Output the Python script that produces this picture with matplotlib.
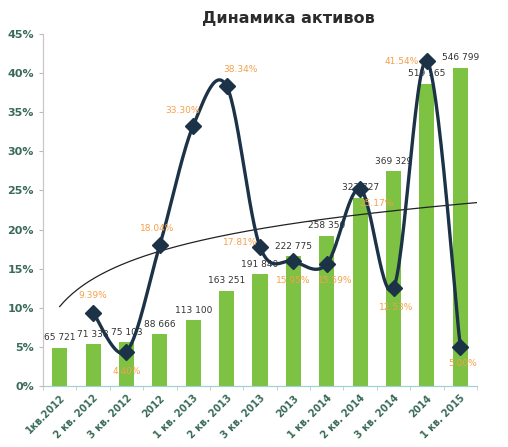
"""
Динамика активов: bars of assets + smoothed growth-rate line with log trend.
"""

import matplotlib

matplotlib.use("Agg")
import matplotlib.pyplot as plt
import numpy as np
from matplotlib.ticker import FixedLocator, FuncFormatter

# ============================================================
# Data
# ============================================================
quarters = [
    "1кв.2012", "2 кв. 2012", "3 кв. 2012", "2012",
    "1 кв. 2013", "2 кв. 2013", "3 кв. 2013", "2013",
    "1 кв. 2014", "2 кв. 2014", "3 кв. 2014", "2014",
    "1 кв. 2015",
]
assets = [65721, 71338, 75103, 88666, 113100, 163251, 191840,
          222775, 258350, 323727, 369329, 519165, 546799]
growth_pct = [np.nan, 9.39, 4.40, 18.04, 33.30, 38.34, 17.81,
              15.95, 15.59, 25.17, 12.53, 41.54, 5.00]

# label offsets for the % labels (points), style only
pct_offsets = [None, (0, 12), (0, -14), (-2, 12), (-8, 11), (10, 12), (-14, 3),
               (0, -14), (6, -12), (12, -10), (2, -14), (-18, 0), (2, -12)]

BAR_GREEN = "#7dc242"
LINE_NAVY = "#1c3247"
ORANGE = "#f5a04a"
AXIS_GREEN = "#3a6b58"


def catmull_rom(x, y, n=30):
    """Excel-like smoothed line through the given points."""
    px, py = [], []
    for i in range(len(x) - 1):
        x0, y0 = (x[i - 1], y[i - 1]) if i > 0 else (x[i], y[i])
        x1, y1 = x[i], y[i]
        x2, y2 = x[i + 1], y[i + 1]
        x3, y3 = (x[i + 2], y[i + 2]) if i + 2 < len(x) else (x2, y2)
        t = np.linspace(0, 1, n)
        # cubic bezier with control points at 1/6 of neighbour differences
        c1x, c1y = x1 + (x2 - x0) / 6, y1 + (y2 - y0) / 6
        c2x, c2y = x2 - (x3 - x1) / 6, y2 - (y3 - y1) / 6
        bx = ((1 - t) ** 3) * x1 + 3 * ((1 - t) ** 2) * t * c1x + 3 * (1 - t) * t ** 2 * c2x + t ** 3 * x2
        by = ((1 - t) ** 3) * y1 + 3 * ((1 - t) ** 2) * t * c1y + 3 * (1 - t) * t ** 2 * c2y + t ** 3 * y2
        px.extend(bx)
        py.extend(by)
    return np.array(px), np.array(py)


def main() -> None:
    plt.rcParams["font.family"] = ["DejaVu Sans"]

    fig = plt.figure(figsize=(5.08, 4.47), dpi=100)
    ax = fig.add_axes([43 / 508, 1 - 386 / 447, (477 - 43) / 508, (386 - 34) / 447])

    x = np.arange(len(quarters))

    # bars (hidden secondary scale)
    ax.bar(x, assets, width=0.45, color=BAR_GREEN, zorder=2)
    ax.set_ylim(0, 605000)
    ax.set_xlim(-0.5, len(quarters) - 0.5)
    ax.set_yticks([])
    for xi, v in zip(x, assets):
        ax.annotate(f"{v:,}".replace(",", " "), (xi, v), xytext=(0, 4),
                    textcoords="offset points", ha="center", va="bottom",
                    fontsize=6.5, color="#333333", zorder=3)

    # percentage axis
    axp = ax.twinx()
    axp.set_ylim(0, 45)
    axp.yaxis.set_ticks_position("left")
    axp.yaxis.set_label_position("left")
    axp.set_yticks(np.arange(0, 46, 5))
    axp.yaxis.set_major_formatter(FuncFormatter(lambda v, _: f"{v:.0f}%"))
    axp.tick_params(axis="y", length=3, color="#bbbbbb", labelsize=8,
                    labelcolor=AXIS_GREEN)
    for lab in axp.get_yticklabels():
        lab.set_fontweight("bold")

    # log trendline fitted to growth series
    g = np.array(growth_pct)
    mask = ~np.isnan(g)
    xn = x[mask] + 1
    a, b = np.polyfit(np.log(xn), g[mask], 1)
    xt = np.linspace(1, len(quarters) + 0.5, 200)
    axp.plot(xt - 1, a * np.log(xt) + b, color="#222222", lw=0.9, zorder=3)

    # smoothed growth line
    sx, sy = catmull_rom(x[mask].astype(float), g[mask])
    axp.plot(sx, sy, color=LINE_NAVY, lw=2.4, zorder=4, solid_capstyle="round")
    axp.plot(x[mask], g[mask], linestyle="none", marker="D", markersize=8,
             color=LINE_NAVY, zorder=5)
    for xi, v, off in zip(x, growth_pct, pct_offsets):
        if off is None:
            continue
        axp.annotate(f"{v:.2f}%", (xi, v), xytext=off, textcoords="offset points",
                     ha="center", va="center", fontsize=6.5, color=ORANGE, zorder=6)

    # spines / x axis
    for a_ in (ax, axp):
        a_.spines["top"].set_visible(False)
        a_.spines["right"].set_visible(False)
        a_.spines["left"].set_color("#c8c8c8")
        a_.spines["bottom"].set_color("#9fd3cf")
    ax.set_xticks(x)
    ax.set_xticklabels(quarters, rotation=45, ha="right", rotation_mode="anchor",
                       fontsize=7, color=AXIS_GREEN, fontweight="bold")
    ax.tick_params(axis="x", length=0, pad=5)
    ax.xaxis.set_minor_locator(FixedLocator(np.arange(-0.5, len(quarters), 1.0)))
    ax.tick_params(axis="x", which="minor", length=3, color="#c8c8c8")

    fig.text(288 / 508, 1 - 18 / 447, "Динамика активов", ha="center", va="center",
             fontsize=11.5, fontweight="bold", color="#2b2b2b")

    fig.savefig("out.png", dpi=100)
    plt.close(fig)


if __name__ == "__main__":
    main()
